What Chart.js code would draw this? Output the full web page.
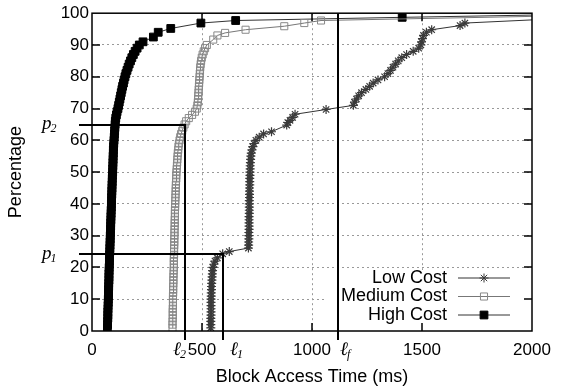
<!DOCTYPE html>
<html>
<head>
<meta charset="utf-8">
<script src="https://cdn.jsdelivr.net/npm/chart.js@4"></script>
<style>
  html, body { margin: 0; padding: 0; background: #fff; }
  #wrap { width: 562px; height: 389px; }
</style>
</head>
<body>
<div id="wrap"><canvas id="chart" width="562" height="389"></canvas></div>
<script>
// CDF of block access time (ms vs percentage)
const seriesNames = ['Low Cost', 'Medium Cost', 'High Cost'];

const lowPct = [1,2,3,4,5,6,7,8,9,10,11,12,13,14,15,16,17,18,19,20,21,22,23,24.3,25,26.1,
  27,28,29,30,31,32,33,34,35,36,37,38,39,40,41,42,43,44,45,46,47,48,49,50,51,52,53,54,55,56,57,58,59,60,61,62,
  62.7,64.8,65.6,66.3,67.2,68.2,69.7,
  71,72,73,74,75,76,77,78,79,80,81,82,83,84,85,86,87,88,89,90,91,92,93,94,
  94.8,96.1,96.9,100];
const lowMs = [540,540,540,540,541,541,541,541,541,541,542,542,543,543,544,545,546,547,548,550,554,559,570,594,624,711,
  712,712,713,713,713,714,714,714,714,714,715,715,715,715,715,716,716,716,716,717,717,717,718,718,719,719,720,721,722,724,727,731,736,745,760,780,
  816,885,890,900,912,923,1064,
  1188,1193,1202,1212,1225,1245,1262,1278,1300,1330,1345,1357,1368,1380,1392,1408,1430,1460,1485,1495,1498,1502,1507,1520,
  1544,1673,1695,2650];

const medPct = [1,2,3,4,5,6,7,8,9,10,11,12,13,14,15,16,17,18,19,20,21,22,23,24,25,26,27,28,29,30,
  31,32,33,34,35,36,37,38,39,40,41,42,43,44,45,46,47,48,49,50,51,52,53,54,55,56,57,58,59,60,
  61,62,63,64,65,66,67,68,69,70,71,72,73,74,75,76,77,78,79,80,81,82,83,84,85,86,87,88,89,90,
  91.7,93,93.8,94.8,95.9,96.9,97.7,100];
const medMs = [366,366,366,367,367,367,367,368,368,368,
  368,369,369,369,370,370,370,371,371,372,
  372,372,372,373,373,373,374,374,374,375,
  375,375,376,376,376,377,377,377,378,378,
  379,379,380,380,381,381,382,383,383,384,
  385,386,387,388,389,390,392,393,395,398,
  401,405,410,415,421,428,440,455,468,476,
  479,481,482,483,484,485,486,487,488,489,
  490,491,492,494,496,499,503,508,514,522,
  551,570,605,698,874,965,1041,2740];

const highPct = [1,2,3,4,5,6,7,8,9,10,11,12,13,14,15,16,17,18,19,20,21,22,23,24,25,26,27,28,29,30,
  31,32,33,34,35,36,37,38,39,40,41,42,43,44,45,46,47,48,49,50,51,52,53,54,55,56,57,58,59,60,
  61,62,63,64,65,66,67,68,69,70,71,72,73,74,75,76,77,78,79,80,81,82,83,84,85,86,87,88,89,90,91,
  92.5,94,95.2,96.9,97.7,98.7,100];
const highMs = [70,71,71,72,72,72,73,73,74,74,
  75,75,75,76,76,77,77,77,78,78,
  79,79,80,80,81,81,82,82,83,83,
  84,84,85,85,86,86,87,87,88,88,
  89,89,90,90,91,91,92,92,93,94,
  94,95,95,96,96,97,97,98,99,100,
  101,102,103,104,105,106,108,111,114,118,
  121,124,127,130,133,136,139,143,146,150,
  154,159,164,169,175,181,188,196,205,215,232,
  279,301,358,495,653,1410,2500];

const xTicks = [0, 500, 1000, 1500, 2000];
const yTicks = [0, 10, 20, 30, 40, 50, 60, 70, 80, 90, 100];

// marked thresholds
const p1 = 24.3, p2 = 64.8;
const l1 = 594, l2 = 423, lf = 1120;

const toPoints = (xs, ys) => xs.map((v, i) => ({ x: v, y: ys[i] }));

const sans = '"Liberation Sans", Arial, sans-serif';
const serif = '"Liberation Serif", "DejaVu Serif", serif';

function subLabel(ctx, main, sub, x0, baseY) {
  ctx.font = 'italic 19px ' + serif;
  ctx.textAlign = 'left';
  ctx.textBaseline = 'alphabetic';
  ctx.fillText(main, x0, baseY);
  const w = ctx.measureText(main).width;
  ctx.font = 'italic 12px ' + serif;
  ctx.fillText(sub, x0 + w - 1, baseY + 3);
}

const gnuplotFrame = {
  id: 'gnuplotFrame',
  afterDatasetsDraw(chart) {
    const { ctx, chartArea: a, scales: { x, y } } = chart;
    ctx.save();

    // opaque key box
    ctx.fillStyle = '#fff';
    ctx.fillRect(325, 270, a.right - 325, a.bottom - 270);

    // key entries
    chart.data.datasets.forEach((ds, i) => {
      const ry = 278 + i * 18.5;
      ctx.fillStyle = '#000';
      ctx.font = '18px ' + sans;
      ctx.textAlign = 'right';
      ctx.textBaseline = 'middle';
      ctx.fillText(ds.label, 447, ry);
      ctx.strokeStyle = ds.borderColor;
      ctx.lineWidth = 1;
      ctx.beginPath();
      ctx.moveTo(458, ry);
      ctx.lineTo(510, ry);
      ctx.stroke();
      ctx.strokeStyle = ds.pointBorderColor;
      ctx.fillStyle = ds.pointBackgroundColor;
      Chart.helpers.drawPoint(ctx, {
        pointStyle: ds.pointStyle, radius: ds.pointRadius, rotation: 0, borderWidth: 1
      }, 484, ry);
    });

    // inward tick marks on all four sides
    ctx.strokeStyle = '#000';
    ctx.lineWidth = 1.5;
    ctx.beginPath();
    yTicks.slice(1, -1).forEach(v => {
      const py = Math.round(y.getPixelForValue(v));
      ctx.moveTo(a.left, py); ctx.lineTo(a.left + 8, py);
      ctx.moveTo(a.right, py); ctx.lineTo(a.right - 8, py);
    });
    xTicks.slice(1, -1).forEach(v => {
      const px = Math.round(x.getPixelForValue(v));
      ctx.moveTo(px, a.bottom); ctx.lineTo(px, a.bottom - 8);
      ctx.moveTo(px, a.top); ctx.lineTo(px, a.top + 8);
    });
    ctx.stroke();
    ctx.strokeRect(a.left, a.top, a.right - a.left, a.bottom - a.top);

    // threshold lines
    const yp1 = Math.round(y.getPixelForValue(p1));
    const yp2 = Math.round(y.getPixelForValue(p2));
    const xl1 = Math.round(x.getPixelForValue(l1));
    const xl2 = Math.round(x.getPixelForValue(l2));
    const xlf = Math.round(x.getPixelForValue(lf));
    ctx.lineWidth = 2;
    ctx.beginPath();
    ctx.moveTo(a.left - 13, yp2); ctx.lineTo(xl2, yp2); ctx.lineTo(xl2, a.bottom + 9);
    ctx.moveTo(a.left - 13, yp1); ctx.lineTo(xl1, yp1); ctx.lineTo(xl1, a.bottom + 9);
    ctx.moveTo(xlf, a.top); ctx.lineTo(xlf, a.bottom + 9);
    ctx.stroke();

    ctx.fillStyle = '#000';
    subLabel(ctx, 'p', '2', 42, yp2 + 4);
    subLabel(ctx, 'p', '1', 42, yp1 + 5);
    subLabel(ctx, '\u2113', '2', xl2 - 12, 355);
    subLabel(ctx, '\u2113', '1', xl1 + 7, 355);
    subLabel(ctx, '\u2113', 'f', xlf + 2, 355);

    ctx.restore();
  }
};

const gridColor = (edge) => (c) => (edge.includes(c.tick.value) ? 'rgba(0,0,0,0)' : '#999');

new Chart(document.getElementById('chart'), {
  type: 'line',
  data: {
    datasets: [
      {
        label: seriesNames[0],
        data: toPoints(lowMs, lowPct),
        borderColor: '#333',
        borderWidth: 1,
        pointStyle: 'star',
        pointRadius: 4.5,
        pointBorderColor: '#3a3a3a',
        pointBackgroundColor: '#3a3a3a',
        pointBorderWidth: 1.2
      },
      {
        label: seriesNames[1],
        data: toPoints(medMs, medPct),
        borderColor: '#777',
        borderWidth: 1,
        pointStyle: 'rect',
        pointRadius: 5,
        pointBorderColor: '#888',
        pointBackgroundColor: 'rgba(255,255,255,0)',
        pointBorderWidth: 1
      },
      {
        label: seriesNames[2],
        data: toPoints(highMs, highPct),
        borderColor: '#333',
        borderWidth: 1,
        pointStyle: 'rect',
        pointRadius: 5.5,
        pointBorderColor: '#000',
        pointBackgroundColor: '#000',
        pointBorderWidth: 1
      }
    ]
  },
  options: {
    responsive: false,
    animation: false,
    events: [],
    layout: { padding: { top: 13, right: 30, left: 0, bottom: 0 } },
    elements: { line: { tension: 0 } },
    plugins: { legend: { display: false }, tooltip: { enabled: false } },
    scales: {
      x: {
        type: 'linear',
        min: 0,
        max: 2000,
        afterBuildTicks: s => { s.ticks = xTicks.map(v => ({ value: v })); },
        afterFit: s => { s.height = 58; },
        grid: { color: gridColor([0, 2000]), lineWidth: 1, drawTicks: false },
        border: { display: false, dash: [2, 3] },
        ticks: {
          padding: 9,
          maxRotation: 0,
          autoSkip: false,
          color: '#000',
          font: { family: sans, size: 17 },
          callback: v => String(v)
        },
        title: {
          display: true,
          text: 'Block Access Time (ms)',
          color: '#000',
          font: { family: sans, size: 18 },
          padding: { top: 0, bottom: 1 }
        }
      },
      y: {
        min: 0,
        max: 100,
        afterBuildTicks: s => { s.ticks = yTicks.map(v => ({ value: v })); },
        afterFit: s => { s.width = 92; },
        grid: { color: gridColor([0, 100]), lineWidth: 1, drawTicks: false },
        border: { display: false, dash: [2, 3] },
        ticks: {
          padding: 3,
          color: '#000',
          font: { family: sans, size: 17 },
          callback: v => String(v)
        },
        title: {
          display: true,
          text: 'Percentage',
          color: '#000',
          font: { family: sans, size: 18 },
          padding: { top: 5, bottom: 0 }
        }
      }
    }
  },
  plugins: [gnuplotFrame]
});
</script>
</body>
</html>
